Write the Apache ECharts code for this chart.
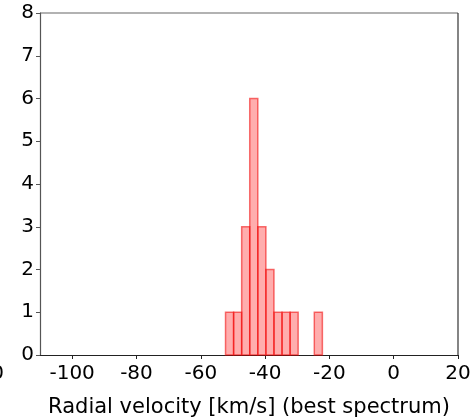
<!DOCTYPE html>
<html><head><meta charset="utf-8">
<script src="https://cdn.jsdelivr.net/npm/echarts@6/dist/echarts.min.js"></script>
<style>html,body{margin:0;padding:0;background:#fff}#c{width:475px;height:418px}</style>
</head><body><div id="c"></div>
<script>
var binStart = -52.3;
var binWidth = 2.51;
var counts = [1, 1, 3, 6, 3, 2, 1, 1, 1, 0, 0, 1];
var xTicks = [-100, -80, -60, -40, -20, 0, 20];
var yTicks = [0, 1, 2, 3, 4, 5, 6, 7, 8];
var xTitle = 'Radial velocity [km/s] (best spectrum)';

var data = counts.map(function (c, i) {
  return [binStart + i * binWidth, binStart + (i + 1) * binWidth, c];
}).filter(function (d) { return d[2] > 0; });

var font = 'DejaVu Sans';
var chart = echarts.init(document.getElementById('c'), null, {renderer: 'canvas'});
chart.setOption({
  animation: false,
  grid: {left: 40, right: 17, top: 13, bottom: 63, outerBoundsMode: 'none', containLabel: false},
  xAxis: {
    type: 'value', min: -110, max: 20,
    name: xTitle, nameLocation: 'middle', nameGap: 42,
    nameTextStyle: {fontFamily: font, fontSize: 21, color: '#000'},
    axisLine: {show: true, onZero: false, lineStyle: {color: '#222', width: 1.2}},
    axisTick: {show: true, customValues: xTicks, length: 4, inside: false, lineStyle: {color: '#222'}},
    axisLabel: {customValues: xTicks, fontFamily: font, fontSize: 20, color: '#000', margin: 9},
    splitLine: {show: false}
  },
  yAxis: {
    type: 'value', min: 0, max: 8, interval: 1,
    axisLine: {show: true, onZero: false, lineStyle: {color: '#555', width: 1.2}},
    axisTick: {show: true, length: 4, lineStyle: {color: '#555'}},
    axisLabel: {fontFamily: font, fontSize: 20, color: '#000', margin: 6},
    splitLine: {show: false}
  },
  graphic: [
    {type: 'line', shape: {x1: 40, y1: 13, x2: 458, y2: 13}, style: {stroke: '#666', lineWidth: 1.2}},
    {type: 'line', shape: {x1: 458, y1: 13, x2: 458, y2: 355}, style: {stroke: '#333', lineWidth: 1.2}},
    {type: 'text', x: 4, y: 374, style: {text: '-120', font: '20px DejaVu Sans', fill: '#000', textAlign: 'right', textVerticalAlign: 'middle'}}
  ],
  series: [{
    type: 'custom',
    data: data,
    encode: {x: [0, 1], y: 2},
    renderItem: function (params, api) {
      var p0 = api.coord([api.value(0), api.value(2)]);
      var p1 = api.coord([api.value(1), 0]);
      return {
        type: 'rect',
        shape: {x: p0[0], y: p0[1], width: p1[0] - p0[0], height: p1[1] - p0[1]},
        style: {fill: 'rgba(255,0,0,0.32)', stroke: 'rgba(240,0,0,0.55)', lineWidth: 1.5}
      };
    }
  }]
});
</script></body></html>
